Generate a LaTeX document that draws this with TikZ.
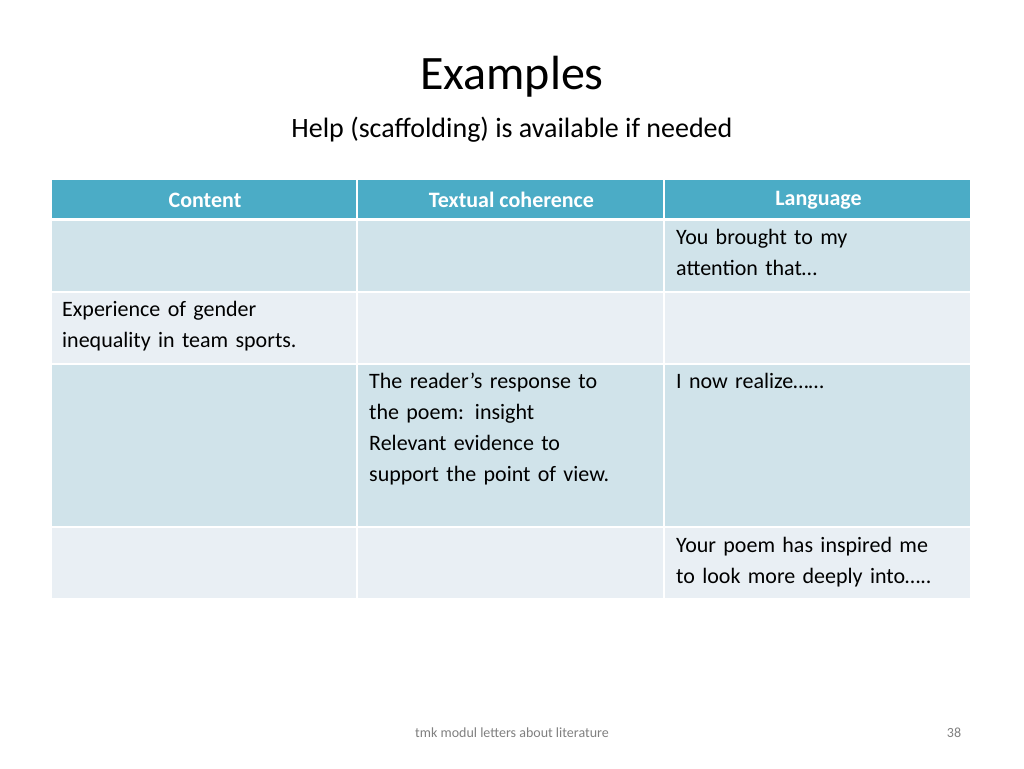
\documentclass[tikz,border=0pt]{standalone}
\usepackage{fontspec}
\setmainfont{Carlito}
\usetikzlibrary{positioning}
\definecolor{head blue}{HTML}{4BACC6}
\definecolor{row dark}{HTML}{D0E3EA}
\definecolor{row light}{HTML}{E9EFF4}
\tikzset{
  cell/.style={anchor=north west, inner sep=0pt, draw=none},
  celltext/.style={anchor=north west, align=left, inner sep=0pt, font=\fontsize{22}{31}\selectfont, text width=290pt},
  headtext/.style={font=\fontsize{22}{26}\selectfont\bfseries, text=white}
}
\begin{document}
\begin{tikzpicture}[x=1pt,y=-1pt]
  \useasboundingbox[fill=white] (0,0) rectangle (1024,768);
  % title
  \node (title) at (512,77) {\fontsize{48}{56}\selectfont Examples};
  \node (subtitle) at (512,130) {\fontsize{28}{32}\selectfont Help (scaffolding) is available if needed};
  % header row
  \foreach \x/\w/\name/\txt in {52/306/hA/Content, 358/307/hB/Textual coherence, 665/307/hC/Language} {
    \fill[head blue] (\x,180) rectangle ++(\w-2,38);
    \node[headtext] (\name) at (\x+\w/2,200) {\txt};
  }
  % body rows
  \foreach \y/\h/\col in {221/70/row dark, 293/70/row light, 365/161/row dark, 528/70/row light} {
    \foreach \x/\w in {52/306, 358/307, 665/307} {
      \fill[\col] (\x,\y) rectangle ++(\w-2,\h);
    }
  }
  % cell texts
  \node[celltext] (lang1) at (676,229) {You brought to my\\attention that\ldots};
  \node[celltext] (cont2) at (62,301) {Experience of gender\\inequality in team sports.};
  \node[celltext] (coh3) at (369,373) {The reader’s response to\\the poem: insight\\Relevant evidence to\\support the point of view.};
  \node[celltext] (lang3) at (676,373) {I now realize\ldots\ldots};
  \node[celltext] (lang4) at (676,537) {Your poem has inspired me\\to look more deeply into\ldots..};
  % footer
  \node[text=gray] (foot) at (512,733) {\fontsize{14}{16}\selectfont tmk modul letters about literature};
  \node[text=gray] (page) at (954,733) {\fontsize{14}{16}\selectfont 38};
\end{tikzpicture}
\end{document}
